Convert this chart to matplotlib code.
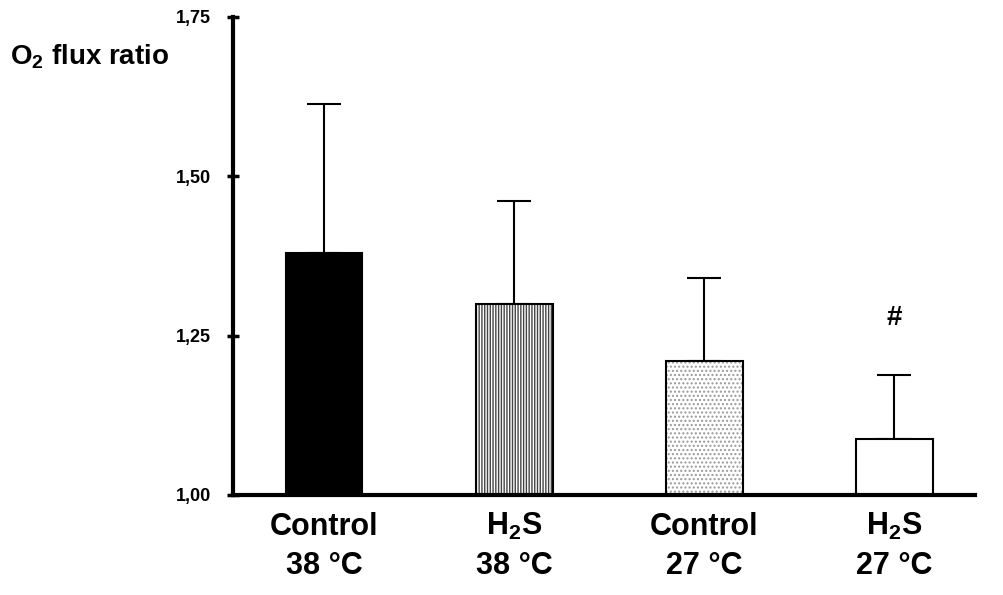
import numpy as np
import matplotlib.pyplot as plt

plt.rcParams['font.family'] = ['Liberation Sans', 'DejaVu Sans']
plt.rcParams['mathtext.default'] = 'regular'

groups = ["Control", "H$_2$S", "Control", "H$_2$S"]
temps = ["38 °C", "38 °C", "27 °C", "27 °C"]
means = [1.379, 1.300, 1.211, 1.088]
sd_upper = [0.234, 0.161, 0.129, 0.101]
hatches = ["", "||||||", "....", ""]
fills = ["black", "white", "white", "white"]
hatch_cols = ["black", "#444444", "#999999", "black"]
yticks = [1.00, 1.25, 1.50, 1.75]

fig = plt.figure(figsize=(10.04, 5.95), dpi=100)
ax = fig.add_axes([233 / 1004, 1 - 495 / 595, (975 - 233) / 1004, (495 - 17) / 595])

x = np.arange(len(groups))
w = 0.405
# hatch layer first, then black outline on top
ax.bar(x, np.array(means) - 1, w, bottom=1, color=fills, hatch=hatches,
       edgecolor=hatch_cols, linewidth=0, zorder=2)
ax.bar(x, np.array(means) - 1, w, bottom=1, color="none",
       edgecolor="black", linewidth=1.5, zorder=3)
ax.errorbar(x, means, yerr=[np.zeros(len(means)), sd_upper], fmt="none",
            ecolor="black", elinewidth=1.5, capsize=12, capthick=1.5, zorder=1)

ax.text(3, 1.278, "#", ha="center", va="center", fontsize=20, fontweight="bold")

ax.set_xlim(-0.479, 3.426)
ax.set_ylim(1.0, 1.75)
ax.set_yticks(yticks)
ax.set_yticklabels([f"{v:.2f}".replace(".", ",") for v in yticks],
                   fontsize=13, fontweight="bold")
ax.set_xticks([])
ax.tick_params(axis="y", direction="inout", length=8, width=2.5, pad=12)

# two-line category labels, placed by baseline so H2S lines up with Control
trans = ax.get_xaxis_transform()
for xi, g, t in zip(x, groups, temps):
    ax.text(xi, -0.0837, g, transform=trans, ha="center", va="baseline",
            fontsize=22, fontweight="bold")
    ax.text(xi, -0.165, t, transform=trans, ha="center", va="baseline",
            fontsize=22, fontweight="bold")

for s in ["top", "right"]:
    ax.spines[s].set_visible(False)
for s in ["left", "bottom"]:
    ax.spines[s].set_linewidth(3)

fig.text(10 / 1004, 1 - 57 / 595, "O$_2$ flux ratio", fontsize=20,
         fontweight="bold", ha="left", va="center")

fig.savefig("out.png", dpi=100)
